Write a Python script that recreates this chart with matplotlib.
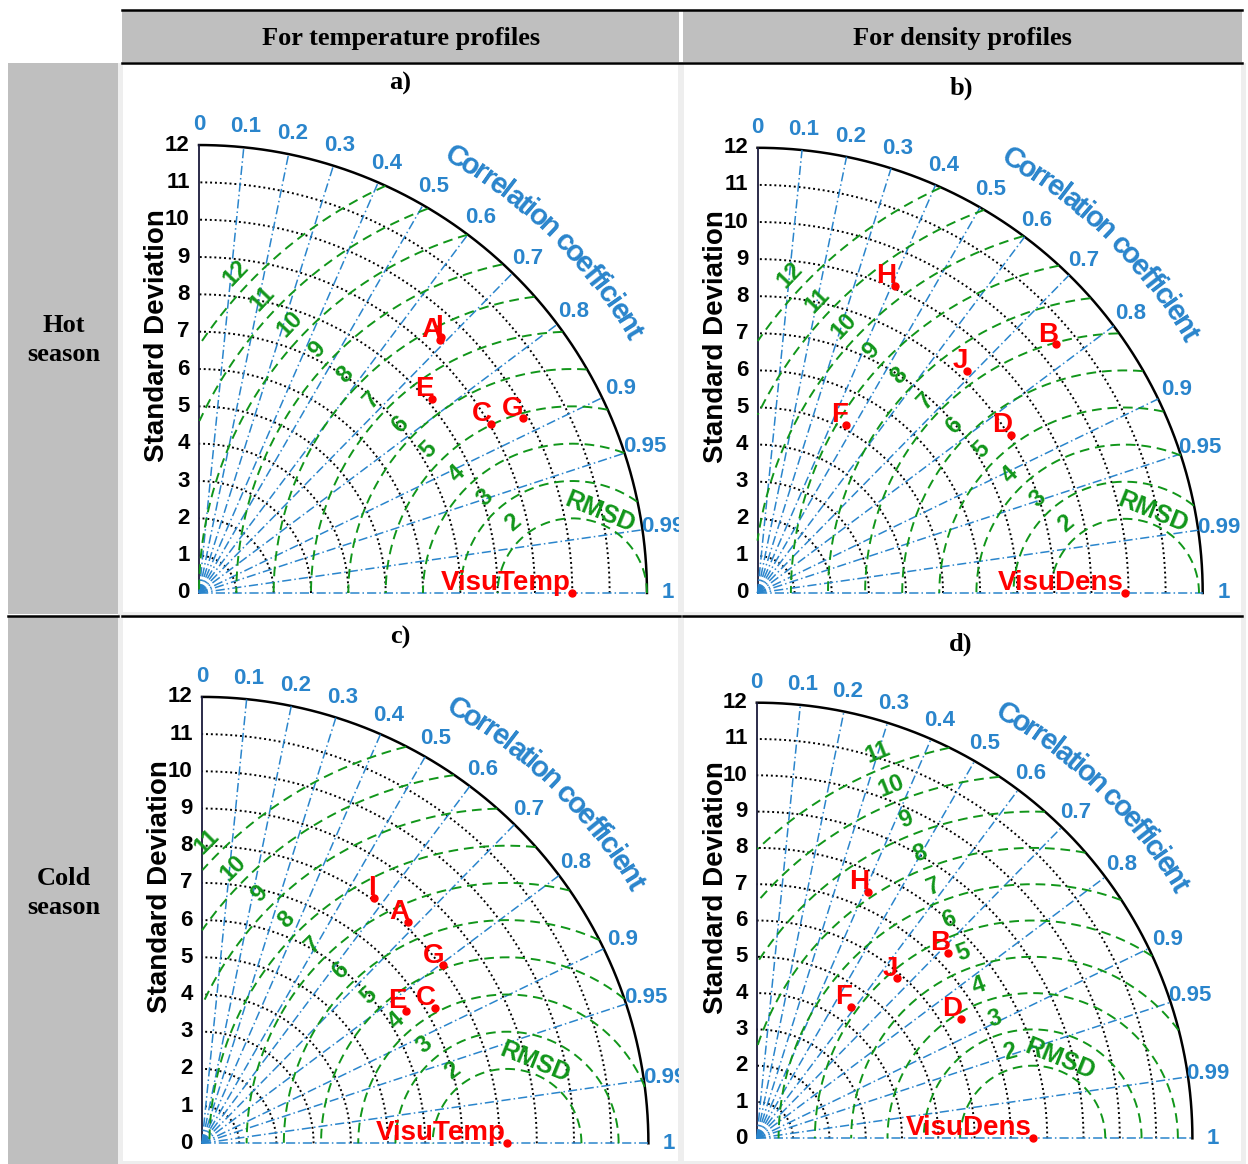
import numpy as np
import matplotlib
matplotlib.use("Agg")
import matplotlib.pyplot as plt
from matplotlib.patches import Rectangle

plt.rcParams['font.family'] = ['Liberation Sans', 'DejaVu Sans']

# Taylor diagram data (std dev, correlation)
temp_hot_labels = ['A', 'I', 'E', 'C', 'G']
temp_hot_std = [9.36, 9.44, 8.12, 9.03, 9.85]
temp_hot_corr = [0.690, 0.687, 0.768, 0.865, 0.880]
temp_hot_ref = 10.0

dens_hot_labels = ['H', 'B', 'J', 'F', 'D']
dens_hot_std = [9.07, 10.48, 8.22, 5.13, 8.05]
dens_hot_corr = [0.409, 0.769, 0.686, 0.467, 0.848]
dens_hot_ref = 9.9

temp_cold_labels = ['I', 'A', 'G', 'E', 'C']
temp_cold_std = [8.06, 8.13, 8.06, 6.53, 7.24]
temp_cold_corr = [0.575, 0.680, 0.805, 0.838, 0.865]
temp_cold_ref = 8.2

dens_cold_labels = ['H', 'B', 'J', 'F', 'D']
dens_cold_std = [7.45, 7.34, 5.85, 4.46, 6.52]
dens_cold_corr = [0.412, 0.719, 0.658, 0.582, 0.863]
dens_cold_ref = 7.6

std_ticks = list(range(0, 13))
corr_ticks = [0, 0.1, 0.2, 0.3, 0.4, 0.5, 0.6, 0.7, 0.8, 0.9, 0.95, 0.99, 1]
corr_tick_labels = ['0', '0.1', '0.2', '0.3', '0.4', '0.5', '0.6', '0.7', '0.8',
                    '0.9', '0.95', '0.99', '1']
rmsd_hot = list(range(2, 13))
rmsd_cold = list(range(2, 12))

BLUE = '#2a85cc'
GREEN = '#11961a'
RED = '#ff0000'
GRAY = '#bfbfbf'
W, H = 1248, 1164

fig = plt.figure(figsize=(W / 100, H / 100), dpi=100)
bg = fig.add_axes([0, 0, 1, 1])
bg.set_xlim(0, W)
bg.set_ylim(H, 0)
bg.axis('off')

# table background
bg.add_patch(Rectangle((118, 63), 1128, 1101, color='#eeeeee', lw=0))
cells = {'a': (122, 63, 679, 613), 'b': (683, 63, 1242, 613),
         'c': (122, 617, 679, 1162), 'd': (683, 617, 1242, 1162)}
for x0, y0, x1, y1 in cells.values():
    bg.add_patch(Rectangle((x0 + 1, y0 + 1), x1 - x0 - 2, y1 - y0 - 2, color='white', lw=0))
bg.add_patch(Rectangle((122, 11), 557, 51, color=GRAY, lw=0))
bg.add_patch(Rectangle((683, 11), 559, 51, color=GRAY, lw=0))
bg.add_patch(Rectangle((8, 63), 110, 551, color=GRAY, lw=0))
bg.add_patch(Rectangle((8, 617), 110, 547, color=GRAY, lw=0))
bg.plot([122, 1242], [10, 10], color='k', lw=1.8)
bg.plot([122, 1242], [62.5, 62.5], color='k', lw=1.8)
for xa, xb in [(8, 118), (122, 680), (683, 1242)]:
    bg.plot([xa, xb], [615.5, 615.5], color='k', lw=1.8)

serif = dict(family='Liberation Serif', weight='bold', fontsize=19)
bg.text(401, 38, 'For temperature profiles', ha='center', va='center', **serif)
bg.text(962, 38, 'For density profiles', ha='center', va='center', **serif)
bg.text(64, 340, 'Hot\nseason', ha='center', va='center', linespacing=1.3, **serif)
bg.text(64, 893, 'Cold\nseason', ha='center', va='center', linespacing=1.3, **serif)
for key, (px, py) in {'a': (400, 83), 'b': (961, 88), 'c': (400, 637), 'd': (961, 644)}.items():
    bg.text(px, py, key + ')', ha='center', va='center', **serif)

char_w = {'C': .722, 'o': .611, 'r': .389, 'e': .556, 'l': .278, 'a': .556, 't': .333,
          'i': .278, 'n': .611, ' ': .278, 'c': .556, 'f': .333}


def taylor(cell, ox, oy, s, labels, stds, corrs, ref, ref_name, rmsd_levels, ang0, ang1):
    x0, y0, x1, y1 = cell
    ax = fig.add_axes([x0 / W, 1 - y1 / H, (x1 - x0) / W, (y1 - y0) / H])
    ax.set_xlim((x0 - ox) / s, (x1 - ox) / s)
    ax.set_ylim((oy - y1) / s, (oy - y0) / s)
    ax.axis('off')
    th = np.linspace(0, np.pi / 2, 300)
    rmax = std_ticks[-1]

    # std circles
    for r in std_ticks[1:-1]:
        ax.plot(r * np.cos(th), r * np.sin(th), color='k', ls=(0, (1, 1.5)), lw=1.4)
    ax.plot(rmax * np.cos(th), rmax * np.sin(th), color='k', lw=1.8)
    ax.plot([0, 0], [0, rmax], color='#1a1a3a', lw=1.3)

    # correlation lines
    for c in corr_ticks[1:]:
        a = np.arccos(c)
        ax.plot([0, rmax * np.cos(a)], [0, rmax * np.sin(a)], color=BLUE,
                ls=(0, (6, 2, 1, 2)), lw=1.1)

    # RMSD contours
    t = np.linspace(0, np.pi, 800)
    for k in rmsd_levels:
        x = ref + k * np.cos(t)
        y = k * np.sin(t)
        bad = (x < 0) | (x ** 2 + y ** 2 > rmax ** 2)
        x[bad] = np.nan
        y[bad] = np.nan
        ax.plot(x, y, color=GREEN, ls=(0, (5, 3)), lw=1.4)
        ang = ang1 - (ang1 - ang0) * np.exp(-(k - 2) / 2.0)
        d = k + 0.45
        ax.text(ref + d * np.cos(np.radians(ang)), d * np.sin(np.radians(ang)), str(k),
                rotation=ang - 90, ha='center', va='center', color=GREEN,
                fontsize=17, weight='bold')
    ax.text(ref + 0.75, 2.17, 'RMSD', rotation=-22, ha='center', va='center',
            color=GREEN, fontsize=18, weight='bold')

    # tick labels
    for r in std_ticks:
        ax.text(-0.25, r, str(r), ha='right', va='center', fontsize=16, weight='bold')
    for c, lab in zip(corr_ticks, corr_tick_labels):
        a = np.arccos(c)
        ax.text(12.56 * np.cos(a), 12.56 * np.sin(a), lab, ha='center', va='center',
                color=BLUE, fontsize=16, weight='bold', clip_on=True)
    ax.text(-1.12, 6.9, 'Standard Deviation', rotation=90, ha='center', va='center',
            fontsize=20, weight='bold')

    # curved axis title
    title = 'Correlation coefficient'
    ws = [char_w[ch] for ch in title]
    pos = np.cumsum(ws) - np.array(ws) / 2
    pos = (pos - pos[0]) / (pos[-1] - pos[0])
    for ch, p in zip(title, pos):
        a = np.radians(59.5 - p * (59.5 - 30.9))
        ax.text(13.55 * np.cos(a), 13.55 * np.sin(a), ch, rotation=np.degrees(a) - 90,
                ha='center', va='center', color=BLUE, fontsize=21, weight='bold')

    # points
    for lab, sd, c in zip(labels, stds, corrs):
        px, py = sd * c, sd * np.sqrt(1 - c ** 2)
        ax.plot(px, py, 'o', color=RED, ms=5)
        ax.annotate(lab, (px, py), xytext=(1, 2), textcoords='offset points',
                    ha='right', va='baseline', color=RED, fontsize=20, weight='bold')
    ax.plot(ref, 0, 'o', color=RED, ms=5, clip_on=False)
    ax.annotate(ref_name, (ref, 0), xytext=(-1, 2.5), textcoords='offset points',
                ha='right', va='baseline', color=RED, fontsize=20, weight='bold')


taylor(cells['a'], 199, 593, 37.33, temp_hot_labels, temp_hot_std, temp_hot_corr,
       temp_hot_ref, 'VisuTemp', rmsd_hot, 130, 136.5)
taylor(cells['b'], 757.5, 593, 37.1, dens_hot_labels, dens_hot_std, dens_hot_corr,
       dens_hot_ref, 'VisuDens', rmsd_hot, 130, 136.5)
taylor(cells['c'], 202, 1143.3, 37.2, temp_cold_labels, temp_cold_std, temp_cold_corr,
       temp_cold_ref, 'VisuTemp', rmsd_cold, 127, 135)
taylor(cells['d'], 756.8, 1138.3, 36.3, dens_cold_labels, dens_cold_std, dens_cold_corr,
       dens_cold_ref, 'VisuDens', rmsd_cold, 105, 112)

fig.savefig('out.png', dpi=100)
